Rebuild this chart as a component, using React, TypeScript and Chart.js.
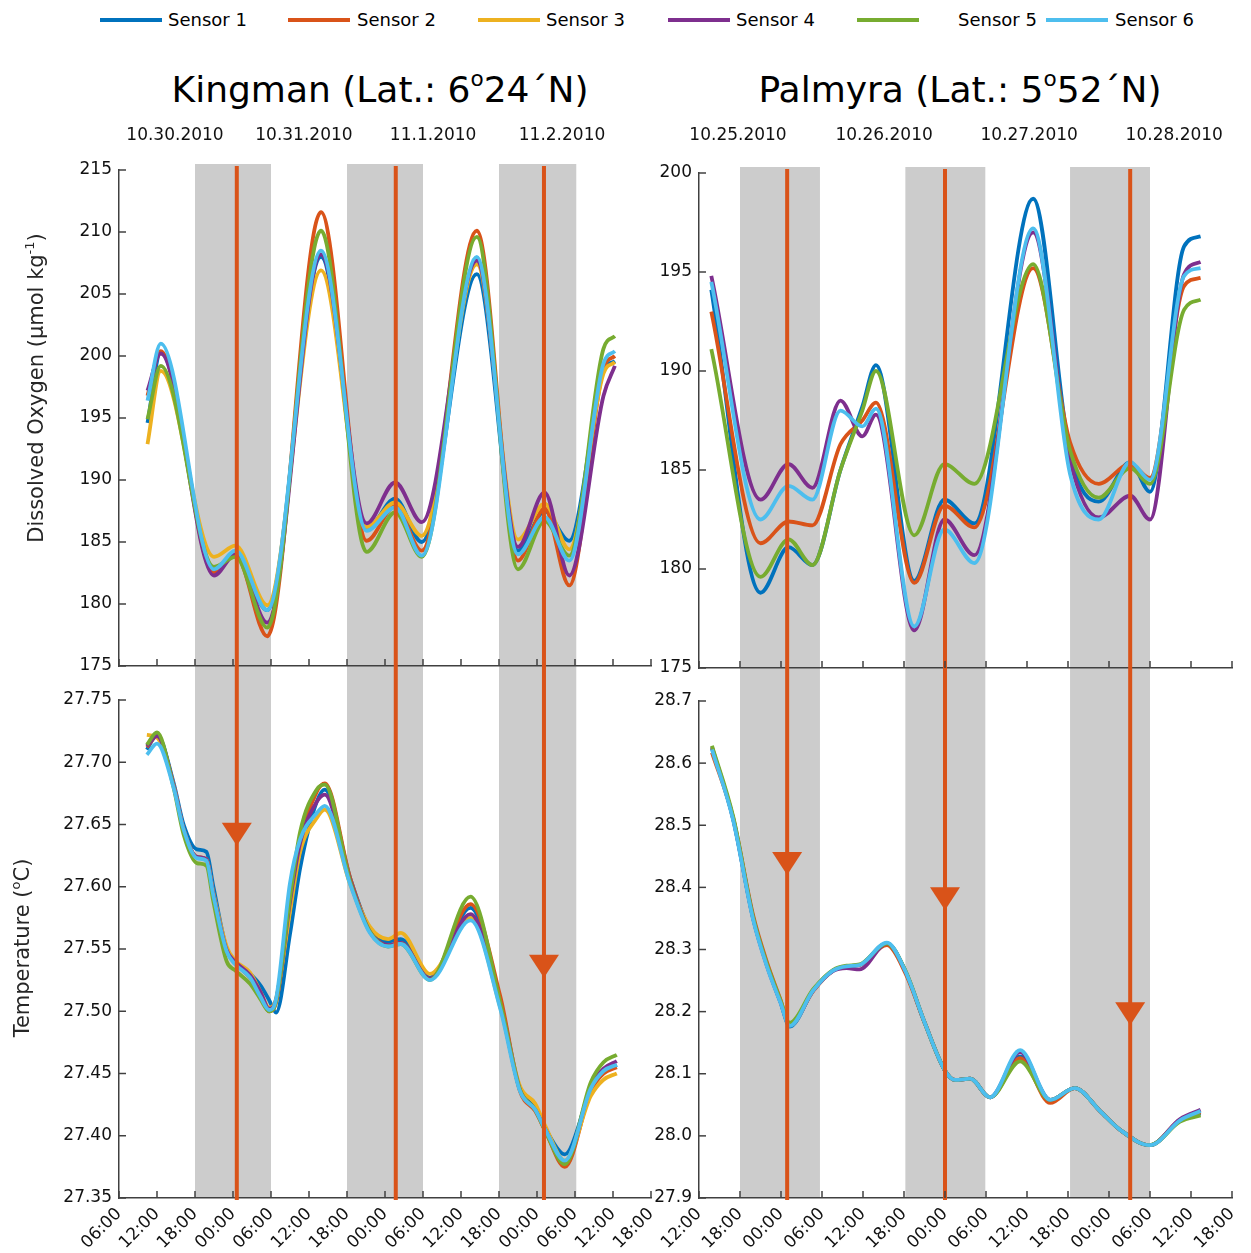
import React, { useEffect, useRef } from "react";
import { Chart, registerables } from "chart.js";

Chart.register(...registerables);

const FONT = "'DejaVu Sans', sans-serif";

const SENSOR_NAMES = ["Sensor 1", "Sensor 2", "Sensor 3", "Sensor 4", "Sensor 5", "Sensor 6"];
const SENSOR_COLORS = ["#0072BD", "#D95319", "#EDB120", "#7E2F8E", "#77AC30", "#4DBEEE"];
const EVENT_COLOR = "#D95319";

// ---------- Kingman: x = hours since 10.29.2010 00:00 ----------
const kingmanDates = ["10.30.2010", "10.31.2010", "11.1.2010", "11.2.2010"];
const kingmanDateHours = [14.84, 35.2, 55.6, 75.95];
const kingmanNights = [[18, 30], [42, 54], [66, 78.2]];
const kingmanEvents = [24.6, 49.7, 73.1];
const kingmanArrows = [27.633, null, 27.527];

const kDoTimes = [10.5, 12.6, 21, 24.4, 29.4, 37.9, 45.1, 49.6, 53.8, 62.5, 69, 73.2, 77.1, 82.5, 84.3];
const kDoS1 = [194.6, 200.3, 182.7, 184.0, 179.5, 208.0, 186.0, 188.5, 185.0, 206.6, 184.3, 187.5, 185.1, 198.8, 199.6];
const kDoS2 = [196.8, 200.4, 182.5, 184.0, 177.4, 211.6, 185.1, 187.9, 184.3, 210.1, 183.5, 187.7, 181.5, 199.0, 200.0];
const kDoS3 = [192.9, 198.8, 183.8, 184.7, 179.9, 206.9, 186.2, 188.2, 185.5, 207.4, 185.2, 188.1, 184.4, 198.6, 199.5];
const kDoS4 = [197.2, 200.2, 182.3, 184.0, 178.5, 208.2, 186.5, 189.8, 186.6, 207.7, 184.6, 189.0, 182.3, 196.8, 199.2];
const kDoS5 = [194.9, 199.2, 183.0, 183.8, 178.1, 210.1, 184.2, 187.4, 183.8, 209.6, 182.8, 186.7, 183.9, 200.6, 201.6];
const kDoS6 = [196.4, 201.0, 182.8, 184.3, 179.5, 208.5, 185.9, 187.8, 183.9, 208.0, 184.0, 187.0, 183.5, 199.4, 200.4];

const kTTimes = [10.4, 12.0, 14.6, 16.2, 18.3, 19.8, 20.9, 23.0, 24.3, 26.7, 28.3, 29.7, 30.8, 33.0, 34.6, 37.2, 38.5, 42.5, 45.6, 48.5, 50.5, 55.1, 61.5, 66.2, 69.3, 71.7, 73.3, 76.4, 80.5, 82.5, 84.6];
const kTS1 = [27.710, 27.722, 27.684, 27.650, 27.630, 27.628, 27.600, 27.550, 27.540, 27.530, 27.521, 27.509, 27.499, 27.562, 27.615, 27.668, 27.678, 27.607, 27.566, 27.556, 27.558, 27.527, 27.583, 27.508, 27.438, 27.422, 27.406, 27.385, 27.437, 27.451, 27.457];
const kTS2 = [27.712, 27.721, 27.682, 27.646, 27.624, 27.622, 27.594, 27.549, 27.539, 27.527, 27.514, 27.500, 27.507, 27.585, 27.636, 27.676, 27.683, 27.607, 27.565, 27.553, 27.555, 27.526, 27.586, 27.512, 27.436, 27.420, 27.404, 27.375, 27.436, 27.450, 27.455];
const kTS3 = [27.722, 27.720, 27.682, 27.646, 27.624, 27.622, 27.595, 27.552, 27.541, 27.531, 27.516, 27.503, 27.510, 27.580, 27.628, 27.655, 27.662, 27.602, 27.568, 27.558, 27.563, 27.530, 27.575, 27.503, 27.440, 27.426, 27.408, 27.380, 27.432, 27.445, 27.450];
const kTS4 = [27.713, 27.721, 27.682, 27.646, 27.624, 27.622, 27.594, 27.549, 27.540, 27.529, 27.516, 27.502, 27.509, 27.588, 27.635, 27.668, 27.674, 27.605, 27.564, 27.553, 27.555, 27.526, 27.578, 27.505, 27.437, 27.421, 27.405, 27.378, 27.440, 27.454, 27.460];
const kTS5 = [27.714, 27.724, 27.680, 27.642, 27.619, 27.617, 27.588, 27.540, 27.533, 27.522, 27.510, 27.500, 27.508, 27.591, 27.644, 27.678, 27.682, 27.604, 27.564, 27.552, 27.554, 27.525, 27.592, 27.507, 27.437, 27.421, 27.404, 27.377, 27.443, 27.459, 27.465];
const kTS6 = [27.706, 27.715, 27.680, 27.646, 27.623, 27.621, 27.593, 27.548, 27.538, 27.527, 27.512, 27.501, 27.510, 27.603, 27.638, 27.659, 27.665, 27.602, 27.563, 27.552, 27.554, 27.525, 27.573, 27.502, 27.436, 27.421, 27.405, 27.380, 27.438, 27.452, 27.457];

// ---------- Palmyra: x = hours since 10.24.2010 00:00 ----------
const palmyraDates = ["10.25.2010", "10.26.2010", "10.27.2010", "10.28.2010"];
const palmyraDateHours = [17.71, 39.09, 60.32, 81.55];
const palmyraNights = [[18, 29.7], [42.2, 53.9], [66.3, 78]];
const palmyraEvents = [24.9, 48.0, 75.1];
const palmyraArrows = [28.42, 28.363, 28.178];

const pDoTimes = [13.8, 21, 25.1, 28.6, 32.7, 35.9, 37.9, 43.5, 47.9, 52.3, 60.9, 66.3, 70.5, 75.1, 78, 83, 85.4];
const pDoS1 = [194.1, 178.8, 181.1, 180.2, 185.0, 188.2, 190.3, 179.4, 183.5, 182.3, 198.7, 185.8, 183.4, 185.4, 183.9, 196.3, 196.8];
const pDoS2 = [193.0, 181.3, 182.4, 182.2, 186.3, 187.5, 188.4, 179.3, 183.2, 182.1, 195.2, 186.4, 184.3, 185.3, 184.6, 194.3, 194.7];
const pDoS4 = [194.8, 183.5, 185.3, 184.1, 188.5, 186.7, 187.8, 176.9, 182.5, 180.7, 197.0, 185.5, 182.6, 183.7, 182.5, 194.9, 195.5];
const pDoS5 = [191.1, 179.6, 181.5, 180.2, 185.0, 188.0, 190.0, 181.7, 185.3, 184.3, 195.4, 186.0, 183.6, 185.1, 184.3, 193.1, 193.6];
const pDoS6 = [194.5, 182.5, 184.2, 183.5, 188.0, 187.2, 188.1, 177.1, 182.0, 180.3, 197.2, 184.8, 182.5, 185.4, 184.5, 194.8, 195.2];

const pTTimes = [13.9, 17.0, 19.9, 21.9, 23.9, 25.3, 28.7, 31.6, 33.6, 35.5, 39.5, 42.2, 45.1, 48.0, 49.5, 51.7, 54.6, 59.0, 63.4, 67.0, 70.7, 73.6, 78.0, 82.4, 85.4];
const pTS1 = [28.624, 28.510, 28.351, 28.277, 28.216, 28.176, 28.234, 28.266, 28.273, 28.275, 28.310, 28.265, 28.180, 28.105, 28.090, 28.092, 28.062, 28.128, 28.058, 28.077, 28.040, 28.010, 27.985, 28.025, 28.036];
const pTS2 = [28.617, 28.512, 28.356, 28.281, 28.220, 28.178, 28.233, 28.266, 28.273, 28.275, 28.307, 28.262, 28.180, 28.105, 28.090, 28.092, 28.062, 28.125, 28.053, 28.077, 28.040, 28.010, 27.985, 28.026, 28.038];
const pTS4 = [28.626, 28.510, 28.351, 28.275, 28.216, 28.178, 28.234, 28.265, 28.270, 28.268, 28.310, 28.265, 28.180, 28.105, 28.090, 28.092, 28.062, 28.135, 28.058, 28.077, 28.040, 28.010, 27.985, 28.027, 28.042];
const pTS5 = [28.628, 28.514, 28.353, 28.278, 28.219, 28.182, 28.236, 28.267, 28.274, 28.276, 28.310, 28.266, 28.180, 28.105, 28.090, 28.092, 28.062, 28.120, 28.058, 28.077, 28.040, 28.010, 27.985, 28.023, 28.033];
const pTS6 = [28.622, 28.508, 28.349, 28.274, 28.215, 28.177, 28.234, 28.266, 28.273, 28.275, 28.311, 28.265, 28.180, 28.105, 28.090, 28.092, 28.062, 28.138, 28.058, 28.077, 28.040, 28.010, 27.985, 28.025, 28.040];

// ---------- layout helpers ----------
type Seg = { t: string; sup?: boolean };

type Panel = {
  times: number[];
  series: (number[] | null)[];
  xMin: number;
  xMax: number;
  yMin: number;
  yMax: number;
  yStep: number;
  decimals: number;
  nights: number[][];
  events: number[];
  arrows?: (number | null)[];
  dates?: string[];
  dateHours?: number[];
  yTitle?: { segs: Seg[]; x: number; y: number };
  top: boolean;
  yWidth: number;
  xHeight: number;
  padding: { top: number; right: number; bottom: number; left: number };
  width: number;
  height: number;
  left: number;
  topPx: number;
};

const pad2 = (n: number) => String(n).padStart(2, "0");

function drawRich(ctx: CanvasRenderingContext2D, segs: Seg[], cx: number, cy: number, size: number) {
  const norm = `${size}px ${FONT}`;
  const small = `${Math.round(size * 0.62)}px ${FONT}`;
  ctx.save();
  ctx.translate(cx, cy);
  ctx.rotate(-Math.PI / 2);
  let w = 0;
  segs.forEach((s) => {
    ctx.font = s.sup ? small : norm;
    w += ctx.measureText(s.t).width;
  });
  let x = -w / 2;
  ctx.textBaseline = "middle";
  ctx.textAlign = "left";
  ctx.fillStyle = "#262626";
  segs.forEach((s) => {
    ctx.font = s.sup ? small : norm;
    ctx.fillText(s.t, x, s.sup ? -size * 0.33 : 0);
    x += ctx.measureText(s.t).width;
  });
  ctx.restore();
}

function decorPlugin(p: Panel) {
  return {
    id: "decor",
    beforeDraw(chart: any) {
      const { ctx, chartArea, scales } = chart;
      const xs = scales.x;
      const y0 = p.top ? chartArea.top - 6 : 0;
      const y1 = p.top ? chart.height : chartArea.bottom;
      ctx.save();
      ctx.fillStyle = "#cccccc";
      p.nights.forEach(([a, b]) => {
        const xa = xs.getPixelForValue(a);
        const xb = xs.getPixelForValue(b);
        ctx.fillRect(xa, y0, xb - xa, y1 - y0);
      });
      ctx.restore();
    },
    afterDatasetsDraw(chart: any) {
      const { ctx, chartArea, scales } = chart;
      const xs = scales.x;
      const ys = scales.y;
      const y0 = p.top ? chartArea.top - 4 : 0;
      const y1 = p.top ? chart.height : chartArea.bottom + 2;
      ctx.save();
      ctx.strokeStyle = EVENT_COLOR;
      ctx.fillStyle = EVENT_COLOR;
      ctx.lineWidth = 4;
      p.events.forEach((t, i) => {
        const x = xs.getPixelForValue(t);
        ctx.beginPath();
        ctx.moveTo(x, y0);
        ctx.lineTo(x, y1);
        ctx.stroke();
        const a = p.arrows ? p.arrows[i] : null;
        if (a !== null && a !== undefined) {
          const ty = ys.getPixelForValue(a);
          ctx.beginPath();
          ctx.moveTo(x - 15, ty - 23);
          ctx.lineTo(x + 15, ty - 23);
          ctx.lineTo(x, ty);
          ctx.closePath();
          ctx.fill();
        }
      });
      ctx.restore();
    },
    afterDraw(chart: any) {
      const { ctx, chartArea, scales } = chart;
      const xs = scales.x;
      const ys = scales.y;
      ctx.save();
      ctx.strokeStyle = "#404040";
      ctx.lineWidth = 1.5;
      for (let v = p.xMin; v <= p.xMax + 1e-9; v += 6) {
        const x = xs.getPixelForValue(v);
        ctx.beginPath();
        ctx.moveTo(x, chartArea.bottom);
        ctx.lineTo(x, chartArea.bottom - 7);
        ctx.stroke();
      }
      const n = Math.round((p.yMax - p.yMin) / p.yStep);
      for (let i = 0; i <= n; i++) {
        const y = ys.getPixelForValue(p.yMin + i * p.yStep);
        ctx.beginPath();
        ctx.moveTo(chartArea.left, y);
        ctx.lineTo(chartArea.left + 7, y);
        ctx.stroke();
      }
      if (p.dates && p.dateHours) {
        ctx.font = `17px ${FONT}`;
        ctx.fillStyle = "#111";
        ctx.textAlign = "center";
        ctx.textBaseline = "middle";
        p.dates.forEach((d, i) => {
          ctx.fillText(d, xs.getPixelForValue(p.dateHours![i]), 21);
        });
      }
      if (p.yTitle) drawRich(ctx, p.yTitle.segs, p.yTitle.x, p.yTitle.y, 21);
      ctx.restore();
    },
  };
}

function makeConfig(p: Panel): any {
  const datasets = p.series
    .map((vals, i) =>
      vals
        ? {
            label: SENSOR_NAMES[i],
            data: p.times.map((t, k) => ({ x: t, y: vals[k] })),
            borderColor: SENSOR_COLORS[i],
            backgroundColor: SENSOR_COLORS[i],
            borderWidth: 3.8,
            pointRadius: 0,
            fill: false,
            cubicInterpolationMode: "monotone",
            order: 6 - i,
          }
        : null
    )
    .filter(Boolean);
  return {
    type: "line",
    data: { datasets },
    plugins: [decorPlugin(p)],
    options: {
      animation: false,
      responsive: false,
      devicePixelRatio: 1,
      events: [],
      layout: { padding: p.padding },
      plugins: { legend: { display: false }, tooltip: { enabled: false } },
      scales: {
        x: {
          type: "linear",
          min: p.xMin,
          max: p.xMax,
          grid: { display: false, drawTicks: false },
          border: { display: true, color: "#404040", width: 1.5 },
          ticks: {
            display: !p.top,
            stepSize: 6,
            autoSkip: false,
            minRotation: 45,
            maxRotation: 45,
            padding: 6,
            color: "#111",
            font: { family: FONT, size: 17 },
            callback: (v: number) => pad2(Math.round(v) % 24) + ":00",
          },
          afterFit: (s: any) => {
            s.height = p.xHeight;
            s.paddingLeft = 0;
            s.paddingRight = 0;
          },
        },
        y: {
          type: "linear",
          min: p.yMin,
          max: p.yMax,
          grid: { display: false, drawTicks: false },
          border: { display: true, color: "#404040", width: 1.5 },
          ticks: {
            stepSize: p.yStep,
            autoSkip: false,
            padding: 7,
            color: "#111",
            font: { family: FONT, size: 17 },
            callback: (v: number) => Number(v).toFixed(p.decimals),
          },
          afterFit: (s: any) => {
            s.width = p.yWidth;
            s.paddingTop = 0;
            s.paddingBottom = 0;
          },
        },
      },
    },
  };
}

const PANELS: Panel[] = [
  {
    times: kDoTimes,
    series: [kDoS1, kDoS2, kDoS3, kDoS4, kDoS5, kDoS6],
    xMin: 6, xMax: 90, yMin: 175, yMax: 215, yStep: 5, decimals: 0,
    nights: kingmanNights, events: kingmanEvents,
    dates: kingmanDates, dateHours: kingmanDateHours,
    yTitle: { segs: [{ t: "Dissolved Oxygen (µmol kg" }, { t: "-1", sup: true }, { t: ")" }], x: 38, y: 273 },
    top: true, yWidth: 119, xHeight: 19,
    padding: { top: 55, right: 9, bottom: 0, left: 0 },
    width: 660, height: 570, left: 0, topPx: 115,
  },
  {
    times: pDoTimes,
    series: [pDoS1, pDoS2, null, pDoS4, pDoS5, pDoS6],
    xMin: 12, xMax: 90, yMin: 175, yMax: 200, yStep: 5, decimals: 0,
    nights: palmyraNights, events: palmyraEvents,
    dates: palmyraDates, dateHours: palmyraDateHours,
    top: true, yWidth: 54, xHeight: 17,
    padding: { top: 58, right: 19, bottom: 0, left: 0 },
    width: 606, height: 570, left: 645, topPx: 115,
  },
  {
    times: kTTimes,
    series: [kTS1, kTS2, kTS3, kTS4, kTS5, kTS6],
    xMin: 6, xMax: 90, yMin: 27.35, yMax: 27.75, yStep: 0.05, decimals: 2,
    nights: kingmanNights, events: kingmanEvents, arrows: kingmanArrows,
    yTitle: { segs: [{ t: "Temperature (" }, { t: "o", sup: true }, { t: "C)" }], x: 24, y: 263 },
    top: false, yWidth: 119, xHeight: 55,
    padding: { top: 15, right: 9, bottom: 0, left: 0 },
    width: 660, height: 568, left: 0, topPx: 685,
  },
  {
    times: pTTimes,
    series: [pTS1, pTS2, null, pTS4, pTS5, pTS6],
    xMin: 12, xMax: 90, yMin: 27.9, yMax: 28.7, yStep: 0.1, decimals: 1,
    nights: palmyraNights, events: palmyraEvents, arrows: palmyraArrows,
    top: false, yWidth: 54, xHeight: 55,
    padding: { top: 16, right: 19, bottom: 0, left: 0 },
    width: 606, height: 568, left: 645, topPx: 685,
  },
];

const LEGEND_POS = [
  { line: 100, text: 168 },
  { line: 288, text: 357 },
  { line: 478, text: 546 },
  { line: 668, text: 736 },
  { line: 857, text: 958 },
  { line: 1046, text: 1115 },
];

export default function App() {
  const r0 = useRef<HTMLCanvasElement>(null);
  const r1 = useRef<HTMLCanvasElement>(null);
  const r2 = useRef<HTMLCanvasElement>(null);
  const r3 = useRef<HTMLCanvasElement>(null);
  const refs = [r0, r1, r2, r3];

  useEffect(() => {
    document.body.style.margin = "0";
    const charts = PANELS.map((p, i) => new Chart(refs[i].current as HTMLCanvasElement, makeConfig(p)));
    return () => charts.forEach((c) => c.destroy());
  }, []);

  const titleStyle: React.CSSProperties = {
    position: "absolute",
    top: 66,
    transform: "translateX(-50%)",
    fontSize: 36,
    lineHeight: "48px",
    whiteSpace: "nowrap",
    color: "#000",
  };
  const supStyle: React.CSSProperties = { fontSize: "0.6em", verticalAlign: "0.75em", lineHeight: 0 };

  return (
    <div style={{ position: "relative", width: 1251, height: 1253, background: "#fff", fontFamily: FONT, overflow: "hidden" }}>
      {SENSOR_NAMES.map((name, i) => (
        <React.Fragment key={name}>
          <div style={{ position: "absolute", left: LEGEND_POS[i].line, top: 18, width: 62, height: 4, background: SENSOR_COLORS[i] }} />
          <div style={{ position: "absolute", left: LEGEND_POS[i].text, top: 9, fontSize: 18, lineHeight: "22px", color: "#000", whiteSpace: "nowrap" }}>{name}</div>
        </React.Fragment>
      ))}
      <div style={{ ...titleStyle, left: 380 }}>
        Kingman (Lat.: 6<span style={supStyle}>o</span>24´N)
      </div>
      <div style={{ ...titleStyle, left: 960 }}>
        Palmyra (Lat.: 5<span style={supStyle}>o</span>52´N)
      </div>
      {PANELS.map((p, i) => (
        <canvas
          key={i}
          ref={refs[i]}
          width={p.width}
          height={p.height}
          style={{ position: "absolute", left: p.left, top: p.topPx, width: p.width, height: p.height }}
        />
      ))}
    </div>
  );
}
